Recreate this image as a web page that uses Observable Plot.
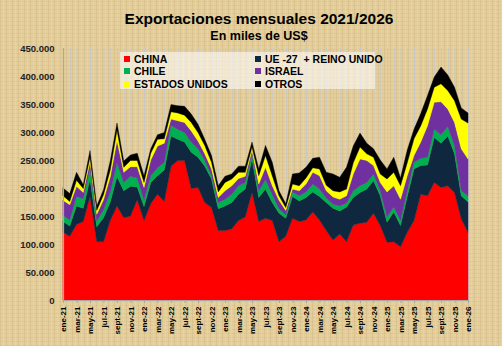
<!DOCTYPE html>
<html><head><meta charset="utf-8">
<script src="https://cdn.jsdelivr.net/npm/d3@7"></script>
<script src="https://cdn.jsdelivr.net/npm/@observablehq/plot@0.6"></script>
<style>
html,body{margin:0;padding:0;background:#e5d1a0;}
#wrap{position:relative;width:502px;height:346px;overflow:hidden;
  background-color:#e4cf9c;
  background-image:
    repeating-linear-gradient(90deg, rgba(140,100,40,0.10) 0px, rgba(140,100,40,0.10) 1px, transparent 1px, transparent 3px, rgba(255,250,230,0.10) 3px, rgba(255,250,230,0.10) 4px, transparent 4px, transparent 6px),
    repeating-linear-gradient(0deg, rgba(140,100,40,0.07) 0px, rgba(140,100,40,0.07) 1px, transparent 1px, transparent 4px);
  font-family:"Liberation Sans",Arial,sans-serif;}
#title{position:absolute;left:0;width:518px;top:10px;text-align:center;font-weight:bold;font-size:15.5px;color:#000;}
#subtitle{position:absolute;left:0;width:518px;top:29px;text-align:center;font-weight:bold;font-size:12.5px;color:#000;}
#legend{position:absolute;left:120px;top:52px;width:255px;height:37px;background:rgba(255,255,255,0.55);font-weight:bold;font-size:10.5px;color:#000;}
.li{position:absolute;white-space:pre;line-height:12px;}
.sw{display:inline-block;width:6px;height:6px;margin-right:4px;vertical-align:1px;}
#chart{position:absolute;left:0;top:0;}
</style>
</head><body>
<div id="wrap">
  <div id="chart"></div>
  <div id="title">Exportaciones mensuales 2021/2026</div>
  <div id="subtitle">En miles de US$</div>
  <div id="legend"></div>
</div>
<script>
const series = ["CHINA", "UE -27  + REINO UNIDO", "CHILE", "ISRAEL", "ESTADOS UNIDOS", "OTROS"];
const colors = ["#ff0000", "#10283f", "#00b050", "#7030a0", "#ffff00", "#000000"];
const monthNames = ["ene","feb","mar","abr","may","jun","jul","ago","sept","oct","nov","dic"];
const years = ["21","22","23","24","25","26"];

// valores mensuales (miles de US$ x 1000), ene-21 ... ene-26
const china = [121000,114000,135000,140000,185000,104000,104000,142000,168000,147000,150000,179000,
  142000,172000,189000,176000,239000,249000,249000,199000,201000,174000,165000,124000,
  124000,127000,142000,148000,192000,140000,146000,142000,104000,114000,146000,140000,
  143000,157000,143000,124000,107000,118000,104000,134000,137000,139000,155000,133000,
  103000,104000,95000,121000,142000,189000,186000,210000,201000,204000,192000,145000,121000];
const ue = [19000,18000,33000,24000,31000,27000,43000,33000,52000,48000,53000,23000,
  25000,38000,33000,56000,54000,38000,33000,65000,54000,65000,51000,39000,
  44000,47000,47000,50000,60000,43000,52000,32000,51000,32000,39000,37000,
  40000,36000,42000,50000,57000,41000,62000,49000,55000,59000,58000,53000,
  36000,53000,38000,64000,92000,51000,55000,80000,79000,89000,69000,41000,54000];
const chile = [11000,11000,17000,17000,19000,10000,14000,18000,25000,15000,18000,16000,
  11000,12000,14000,14000,19000,18000,17000,18000,15000,10000,6000,11000,
  12000,15000,15000,12000,9000,12000,17000,14000,8000,6000,8000,9000,
  10000,14000,13000,8000,7000,9000,7000,12000,12000,12000,12000,9000,
  9000,9000,9000,10000,12000,13000,14000,15000,15000,17000,15000,9000,11000];
const israel = [27000,27000,18000,11000,12000,12000,18000,27000,40000,18000,17000,20000,
  23000,28000,39000,34000,11000,15000,18000,20000,14000,12000,12000,9000,
  15000,15000,13000,11000,6000,12000,22000,16000,15000,8000,5000,9000,
  14000,21000,24000,13000,13000,12000,13000,30000,48000,39000,15000,15000,
  45000,38000,38000,27000,12000,29000,56000,48000,59000,31000,41000,75000,66000];
const eeuu = [8000,6000,11000,7000,8000,7000,9000,12000,18000,9000,11000,11000,
  9000,12000,12000,8000,13000,14000,13000,15000,15000,15000,12000,10000,
  15000,12000,11000,7000,6000,15000,21000,18000,8000,5000,9000,9000,
  11000,8000,12000,10000,11000,13000,12000,20000,21000,12000,15000,15000,
  23000,24000,24000,23000,30000,29000,30000,27000,32000,33000,39000,53000,64000];
const otros = [14000,14000,14000,7000,12000,8000,9000,16000,13000,11000,10000,13000,
  12000,8000,8000,11000,13000,13000,16000,15000,15000,11000,12000,11000,
  11000,9000,11000,11000,9000,12000,18000,24000,9000,7000,18000,23000,
  19000,17000,21000,23000,30000,26000,39000,30000,25000,19000,15000,25000,
  18000,27000,14000,23000,17000,22000,24000,18000,30000,28000,24000,20000,18000];
const yTicks = [0,50000,100000,150000,200000,250000,300000,350000,400000,450000];

const labels = [];
years.forEach(y => monthNames.forEach(m => labels.push(m + "-" + y)));
labels.length = china.length;

const valuesBySeries = [china, ue, chile, israel, eeuu, otros];
const rows = [];
series.forEach((s, k) => valuesBySeries[k].forEach((v, i) => rows.push({i, s, v})));

const loc = d3.formatLocale({decimal: ",", thousands: ".", grouping: [3], currency: ["", ""]});
const fmt = loc.format(",d");

const chart = Plot.plot({
  width: 502, height: 346,
  marginTop: 48, marginBottom: 46, marginLeft: 63, marginRight: 34,
  style: {background: "transparent", fontFamily: "'Liberation Sans', Arial, sans-serif", color: "#000"},
  x: {type: "linear", domain: [0, labels.length - 1], label: null},
  y: {domain: [0, 450000], label: null},
  color: {domain: series, range: colors},
  marks: [
    Plot.ruleX(d3.range(labels.length), {y1: 0, y2: 450000, stroke: "#c8c8c8", strokeWidth: 1}),
    Plot.areaY(rows, {x: "i", y: "v", z: "s", fill: "s", stroke: "s", strokeWidth: 0.4, order: series, curve: "linear"}),
    Plot.ruleX([0], {y1: 0, y2: 450000, stroke: "#a8a8a8", strokeWidth: 1.2}),
    Plot.ruleY([0], {stroke: "#a8a8a8", strokeWidth: 1.2}),
    Plot.axisY({ticks: yTicks, tickFormat: fmt, tickSize: 0, tickPadding: 9, fontWeight: "bold", fontSize: 9.5, fill: "#222"}),
    Plot.axisX({ticks: d3.range(0, labels.length, 2), tickFormat: i => labels[i], tickRotate: -90, tickSize: 3, tickPadding: 3, stroke: "#a8a8a8", fontWeight: "bold", fontSize: 8, fill: "#000"})
  ]
});
document.getElementById("chart").appendChild(chart);

const legend = document.getElementById("legend");
const order = [0,2,4,1,3,5];
order.forEach((k, j) => {
  const row = j % 3, col = Math.floor(j / 3);
  const d = document.createElement("div");
  d.className = "li";
  d.style.left = (col === 0 ? 4 : 135) + "px";
  d.style.top = (1 + row * 12.3) + "px";
  const sw = document.createElement("span");
  sw.className = "sw";
  sw.style.background = colors[k];
  d.appendChild(sw);
  d.appendChild(document.createTextNode(series[k]));
  legend.appendChild(d);
});
</script>
</body></html>
